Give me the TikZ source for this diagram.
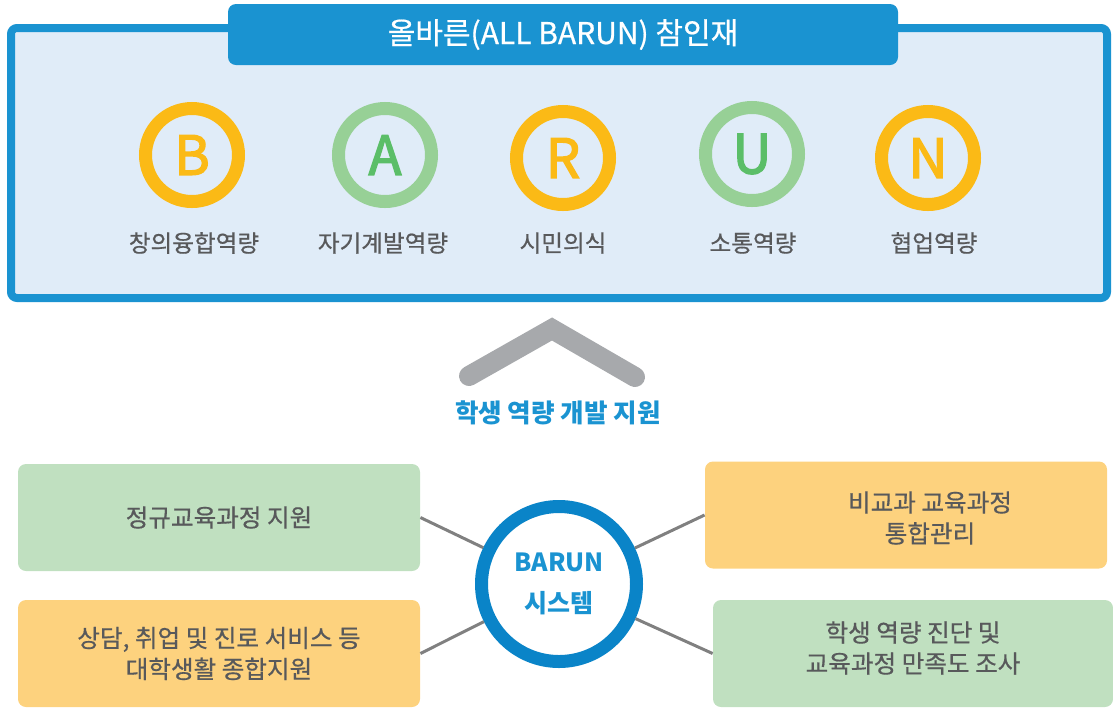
\documentclass[tikz,border=0pt]{standalone}
\usepackage{fontspec}
\setmainfont{Noto Sans CJK KR}
\newfontfamily\medfont{Noto Sans CJK KR}[FakeBold=2.6]
\newfontfamily\semifont{Noto Sans CJK KR}[FakeBold=0.6]
\definecolor{barunblue}{HTML}{1A93D1}
\definecolor{ringblue}{HTML}{0A84C8}
\definecolor{panelfill}{HTML}{E0ECF8}
\definecolor{amber}{HTML}{FBBA16}
\definecolor{ringgreen}{HTML}{97D096}
\definecolor{lettergreen}{HTML}{5BBE68}
\definecolor{labelgray}{HTML}{58595B}
\definecolor{chevgray}{HTML}{A7A9AC}
\definecolor{boxgreen}{HTML}{C0E0C0}
\definecolor{boxorange}{HTML}{FDD27E}
\definecolor{linkgray}{HTML}{808080}
\begin{document}
\begin{tikzpicture}[x=0.5pt, y=-0.5pt]
            \tikzstyle{panel} = [draw=barunblue, line width=4pt, fill=panelfill, rounded corners=3pt]
            \tikzstyle{titlebox} = [fill=barunblue, text=white, rounded corners=4pt, minimum width=335pt, minimum height=30.5pt, font=\semifont\fontsize{15}{17}\selectfont]
            \tikzstyle{letterring} = [circle, draw, line width=6.5pt, minimum size=46.5pt, inner sep=0pt, font=\medfont\fontsize{27}{30}\selectfont]
            \tikzstyle{captext} = [text=labelgray, font=\semifont\fontsize{11.8}{14}\selectfont]
            \tikzstyle{infobox} = [rounded corners=4pt, minimum width=201pt, minimum height=53.5pt, inner sep=0pt]
            \tikzstyle{boxtext} = [text=labelgray, align=center, font=\semifont\fontsize{12.3}{15.5}\selectfont]
            \tikzstyle{link} = [draw=linkgray, line width=1.5pt]
            \useasboundingbox (0, 0) rectangle (1113, 708);

            % upper panel
            \draw[panel] (11, 28) rectangle (1107, 298);
            \node[titlebox] (title) at (563, 34.5) {올바른(ALL BARUN) 참인재};

            \node[letterring, draw=amber, text=amber] (B) at (192, 155) {B};
            \node[letterring, draw=ringgreen, text=lettergreen] (A) at (385, 155) {A};
            \node[letterring, draw=amber, text=amber] (R) at (563, 158) {R};
            \node[letterring, draw=ringgreen, text=lettergreen] (U) at (752, 154) {U};
            \node[letterring, draw=amber, text=amber] (N) at (928, 158) {N};
            \node[captext] (capB) at (194, 243) {창의융합역량};
            \node[captext] (capA) at (383, 243) {자기계발역량};
            \node[captext] (capR) at (563, 243) {시민의식};
            \node[captext] (capU) at (753, 243) {소통역량};
            \node[captext] (capN) at (934, 243) {협업역량};

            % chevron
            \draw[chevgray, line width=10pt, line cap=round, miter limit=4] (469, 376) -- (552, 329) -- (635, 377);
            \node[text=barunblue, font=\fontsize{12.8}{15}\selectfont\bfseries] (support) at (558, 413) {학생 역량 개발 지원};

            % system
            \node[circle, draw=ringblue, fill=white, line width=6.5pt, minimum size=77.5pt, inner sep=0pt, align=center, text=barunblue, font=\fontsize{12.5}{20.5}\selectfont\bfseries] (sys) at (559, 584) {BARUN\\시스템};

            \node[infobox, fill=boxgreen, boxtext] (lt) at (219, 517.5) {정규교육과정 지원};
            \node[infobox, fill=boxorange, boxtext] (lb) at (219, 653.5) {상담, 취업 및 진로 서비스 등\\대학생활 종합지원};
            \node[infobox, fill=boxorange] (rt) at (906, 515) {};
            \node[boxtext] (rttext) at (930, 518) {비교과 교육과정\\통합관리};
            \node[infobox, fill=boxgreen, minimum width=200pt] (rb) at (913, 653.5) {};
            \node[boxtext] (rbtext) at (913, 648) {학생 역량 진단 및\\교육과정 만족도 조사};

            \draw[link] (lt.east) -- (sys);
            \draw[link] (lb.east) -- (sys);
            \draw[link] (rt.west) -- (sys);
            \draw[link] (rb.west) -- (sys);
\end{tikzpicture}
\end{document}
